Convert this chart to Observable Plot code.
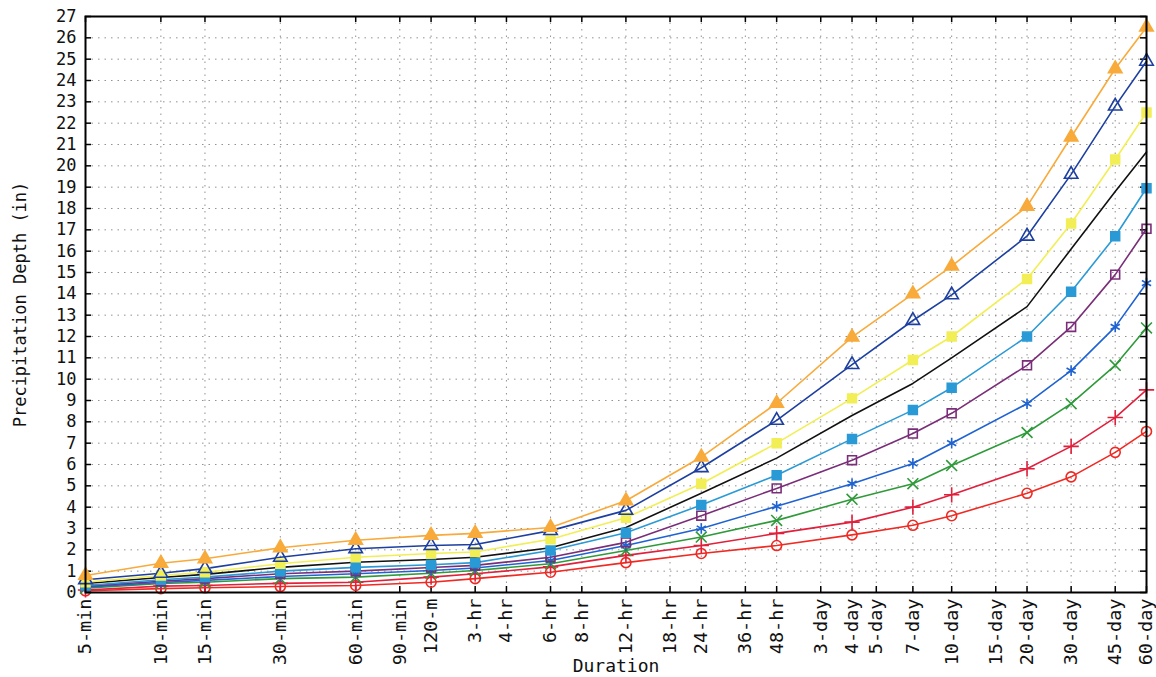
<!DOCTYPE html>
<html>
<head>
<meta charset="utf-8">
<script src="https://cdn.jsdelivr.net/npm/d3@7"></script>
<script src="https://cdn.jsdelivr.net/npm/@observablehq/plot@0.6"></script>
<style>
  html, body { margin: 0; padding: 0; background: #fff; }
  #chart svg { display: block; }
</style>
</head>
<body>
<div id="chart"></div>
<script>
// x-axis tick labels and their durations (minutes)
const durationLabels = ["5-min","10-min","15-min","30-min","60-min","90-min","120-m","3-hr","4-hr","6-hr","8-hr","12-hr","18-hr","24-hr","36-hr","48-hr","3-day","4-day","5-day","7-day","10-day","15-day","20-day","30-day","45-day","60-day"];
const durationMinutes = [5,10,15,30,60,90,120,180,240,360,480,720,1080,1440,2160,2880,4320,5760,7200,10080,14400,21600,28800,43200,64800,86400];

// durations of the plotted points (minutes)
const pointDurations = [5,10,15,30,60,120,180,360,720,1440,2880,5760,10080,14400,28800,43200,64800,86400];

// y ticks
const depthTicks = d3.range(0, 28);

// series values (inches)
const yr1    = [0.08,0.18,0.22,0.28,0.33,0.48,0.65,0.95,1.40,1.83,2.20,2.70,3.15,3.60,4.65,5.42,6.57,7.55];
const yr2    = [0.12,0.30,0.33,0.43,0.48,0.72,0.88,1.20,1.74,2.20,2.77,3.30,4.00,4.58,5.80,6.85,8.20,9.50];
const yr5    = [0.20,0.42,0.48,0.65,0.72,0.90,1.03,1.35,1.97,2.60,3.38,4.37,5.10,5.95,7.50,8.85,10.65,12.40];
const yr10   = [0.25,0.47,0.57,0.75,0.88,1.03,1.15,1.50,2.20,3.00,4.04,5.10,6.05,7.00,8.85,10.40,12.45,14.50];
const yr25   = [0.30,0.53,0.65,0.88,1.00,1.17,1.27,1.65,2.35,3.60,4.88,6.20,7.45,8.40,10.65,12.45,14.90,17.05];
const yr50   = [0.33,0.60,0.72,1.00,1.18,1.30,1.40,1.97,2.80,4.10,5.50,7.20,8.55,9.60,12.00,14.10,16.70,18.95];
const yr100  = [0.42,0.70,0.85,1.18,1.42,1.55,1.65,2.10,3.05,4.65,6.30,8.30,9.80,11.00,13.40,16.10,18.80,20.65];
const yr200  = [0.48,0.80,0.95,1.35,1.65,1.83,1.90,2.50,3.50,5.10,7.00,9.10,10.90,12.00,14.70,17.30,20.30,22.50];
const yr500  = [0.60,0.90,1.12,1.65,2.05,2.20,2.25,2.90,3.85,5.85,8.07,10.68,12.75,13.95,16.70,19.60,22.80,24.90];
const yr1000 = [0.80,1.37,1.58,2.10,2.45,2.68,2.77,3.05,4.30,6.35,8.87,11.97,14.00,15.30,18.10,21.35,24.55,26.50];

const seriesNames  = ["1-year","2-year","5-year","10-year","25-year","50-year","100-year","200-year","500-year","1000-year"];
const seriesValues = [yr1, yr2, yr5, yr10, yr25, yr50, yr100, yr200, yr500, yr1000];
const seriesColors = ["#f02a22","#e0203c","#2f9a3a","#1f63d2","#7a2d78","#2a9ad6","#111111","#f2ee55","#1c3fa0","#f8aa3a"];
const seriesSymbols = ["circle","plus","times","asterisk","square","square",null,"square","triangle","triangle"];
const seriesFilled  = [false,false,false,false,false,true,false,true,false,true];

const rows = [];
seriesNames.forEach((name, i) => {
  seriesValues[i].forEach((v, j) => rows.push({series: name, dur: pointDurations[j], depth: v}));
});

const W = 1156, H = 677;
const mL = 85, mR = 10, mT = 16, mB = 85;
const innerW = W - mL - mR, innerH = H - mT - mB;
const font = "DejaVu Sans Mono, Liberation Mono, monospace";

const marks = [
  Plot.gridY(depthTicks, {stroke: "#777", strokeOpacity: 0.8, strokeDasharray: "1.5,5"}),
  Plot.gridX(durationMinutes, {stroke: "#777", strokeOpacity: 0.8, strokeDasharray: "1.5,5"}),
  // inward ticks
  Plot.ruleX(durationMinutes, {stroke: "#000", strokeWidth: 1.5, insetTop: innerH - 6}),
  Plot.ruleX(durationMinutes, {stroke: "#000", strokeWidth: 1.5, insetBottom: innerH - 6}),
  Plot.ruleY(depthTicks, {stroke: "#000", strokeWidth: 1.5, insetRight: innerW - 6}),
  Plot.ruleY(depthTicks, {stroke: "#000", strokeWidth: 1.5, insetLeft: innerW - 6}),
  // x tick labels (rotated)
  Plot.text(durationMinutes, {
    x: (d) => d, frameAnchor: "bottom", dy: 6, rotate: -90, textAnchor: "end",
    text: (d, i) => durationLabels[i], fontSize: 18.5, fill: "#111", lineAnchor: "middle"
  }),
  Plot.text(["Duration"], {
    frameAnchor: "bottom", dy: 74, text: (d) => d, fontSize: 18, fill: "#111", lineAnchor: "middle"
  }),
  Plot.axisY(depthTicks, {
    tickSize: 0, tickPadding: 9, fontSize: 17, fill: "#111",
    label: "Precipitation Depth (in)", labelAnchor: "center", labelArrow: "none", labelOffset: 72
  })
];

seriesNames.forEach((name, i) => {
  const data = rows.filter(r => r.series === name);
  marks.push(Plot.line(data, {x: "dur", y: "depth", stroke: seriesColors[i], strokeWidth: 1.6}));
});
seriesNames.forEach((name, i) => {
  if (!seriesSymbols[i]) return;
  const data = rows.filter(r => r.series === name);
  marks.push(Plot.dot(data, {
    x: "dur", y: "depth", symbol: seriesSymbols[i], r: 5,
    stroke: seriesColors[i], strokeWidth: 1.6,
    fill: seriesFilled[i] ? seriesColors[i] : "none"
  }));
});
marks.push(Plot.frame({stroke: "#000", strokeWidth: 2}));

const chart = Plot.plot({
  width: W, height: H,
  marginLeft: mL, marginRight: mR, marginTop: mT, marginBottom: mB,
  style: {fontFamily: font, background: "#fff", color: "#111"},
  x: {type: "log", domain: [5, 86400], axis: null},
  y: {domain: [0, 27], axis: null},
  marks
});
document.getElementById("chart").appendChild(chart);
</script>
</body>
</html>
